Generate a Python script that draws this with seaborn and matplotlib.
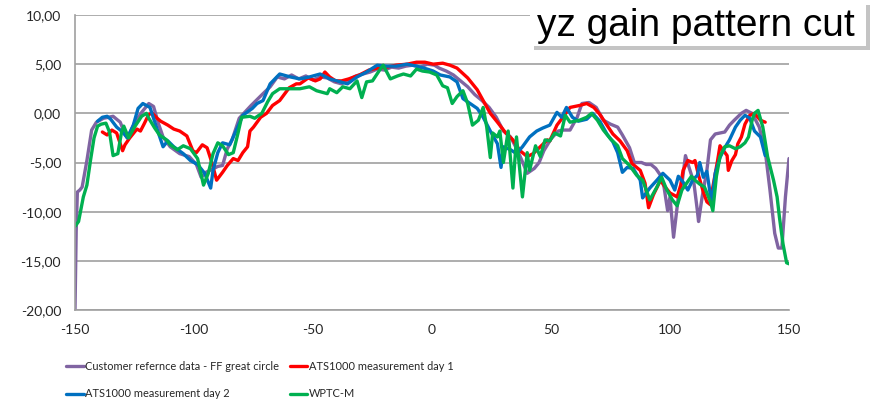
import pandas as pd
import matplotlib
matplotlib.use("Agg")
import matplotlib.pyplot as plt
from matplotlib.patches import Rectangle
import seaborn as sns

# angle (deg) / gain (dB)
purple_deg = [-150, -149.5, -149, -148, -147, -145, -143, -141, -138, -134, -131, -129, -128, -125, -122,
              -119, -117, -115, -113, -110, -106, -102, -99, -97, -95, -90, -88, -86, -84, -81, -76, -71,
              -68, -65, -62, -59, -56, -53, -50, -47, -44, -41, -38, -35, -32, -29, -26, -23, -20, -17,
              -14, -11, -8, -5, -2, 1, 3, 6, 9, 12, 15, 18, 21, 24, 27, 30, 33, 36, 39, 40, 43, 45, 47,
              50, 53, 55, 58, 61, 63, 66, 69, 72, 75, 78, 80, 83, 85, 88, 90, 92, 94, 96, 97.5, 99, 100,
              101.5, 103.5, 105, 106.5, 108, 110, 111.5, 112, 113.5, 115.5, 117, 119, 121, 123, 125, 127,
              130, 132, 134.5, 137.5, 140, 142, 144, 145.5, 147, 148.5, 150]
purple_val = [-20, -12, -8, -7.8, -7.5, -4.8, -1.7, -0.9, -0.5, -0.3, -0.9, -2.1, -2.5, -1.0, 0.1,
              1.0, 0.7, -1.0, -2.4, -3.4, -4.1, -4.4, -5.2, -6.5, -6.0, -5.4, -5.3, -3.6, -2.7, -0.5, 0.8, 2.0,
              2.7, 3.7, 3.5, 3.9, 3.5, 3.8, 3.4, 3.7, 3.6, 3.2, 3.0, 3.4, 3.8, 4.0, 4.2, 4.5, 4.4, 4.7,
              4.6, 4.8, 4.9, 4.7, 5.0, 4.9, 4.6, 4.3, 3.9, 3.3, 2.7, 1.9, 1.3, 0.6, -0.4, -1.8, -2.4, -3.8, -5.5, -6.1, -5.6, -5.0, -3.8,
              -2.6, -1.8, -1.7, -1.7, -0.4, 1.0, 1.1, 0.6, -0.7, -1.1, -1.4, -2.2, -3.5, -5.0, -5.0, -5.2, -5.2, -5.6, -6.3, -7.5, -9.9, -8.5,
              -12.6, -8.5, -7.2, -4.3, -5.5, -7.0, -9.9, -11.0, -8.5, -5.8, -2.7, -2.1, -2.0, -1.9, -1.2, -0.7,
              0.0, 0.3, 0.0, -1.4, -3.8, -7.8, -12.2, -13.7, -13.7, -8.5, -4.6]

red_deg = [-138.5, -136.5, -134.5, -132.5, -130, -129, -127, -124, -122.5, -121, -119, -117.5, -115.5, -114,
           -111, -108.5, -106, -103, -100.5, -99, -96.5, -94.5, -92.5, -90.5, -88, -86, -83.5, -81.5, -79.5,
           -77.5, -76.5, -75, -72, -69.5, -67, -64, -60, -57, -55.5, -52, -49, -47, -45, -43, -40.5, -38, -35,
           -30.5, -26.5, -23, -19, -15, -10.5, -6.5, -3, 0.5, 4.5, 7.5, 10.5, 15, 19, 21.5, 24.5, 27.5, 31, 34,
           37, 40, 42.5, 45.5, 48.5, 49.5, 52.5, 55, 58, 62, 65, 68, 70.5, 73.5, 76, 79, 82, 84, 87.5, 89.5,
           91, 93, 96, 98, 100, 103, 104.5, 105.5, 107.5, 109.5, 110.5, 112, 114, 115.5, 117, 118, 120, 121,
           122.5, 124, 124.5, 126, 127.5, 128.5, 130, 131.5, 133.5, 135.5, 138, 140]
red_val = [-1.9, -2.2, -1.7, -2.0, -3.8, -3.2, -2.5, -1.6, -1.8, -1.1, -0.1, 0.0, -0.5, -0.8,
           -1.2, -1.6, -1.8, -2.3, -3.8, -4.0, -3.2, -3.5, -5.0, -6.8, -6.0, -5.3, -4.6, -4.8, -4.0,
           -3.4, -1.8, -1.4, -0.4, 0.0, 0.8, 1.3, 2.6, 3.0, 3.0, 3.6, 3.3, 3.5, 4.2, 3.7, 3.3, 3.3, 3.5,
           3.9, 4.4, 4.6, 4.7, 4.9, 5.0, 5.2, 5.2, 5.0, 5.1, 4.9, 4.6, 3.6, 2.4, 1.3, 0.0, -0.9, -2.0, -2.7,
           -3.8, -4.4, -4.1, -3.4, -2.7, -2.8, -1.2, -0.4, 0.6, 0.8, 1.0, 0.6, -0.1, -1.2, -2.1, -2.8, -3.8, -5.1, -5.8, -7.1,
           -9.6, -8.3, -6.8, -7.5, -8.1, -8.5, -7.3, -5.8, -4.8, -5.0, -4.8, -6.3, -8.0, -9.0, -9.3, -7.5, -4.8, -3.3,
           -3.8, -4.3, -5.8, -4.8, -4.2, -3.1, -2.4, -1.1, -0.2, 0.0, -0.7, -0.9]

blue_deg = [-140.5, -138.5, -136.5, -135, -132.5, -130, -128, -125.5, -123.5, -121.5, -118.5, -115.5, -113,
            -111, -108.5, -104.5, -101.5, -98.5, -95.5, -93, -92, -90, -88, -85, -82, -79.5, -75.5, -73.5,
            -71, -68, -64, -59.5, -55.5, -51.5, -47, -43, -38.5, -35.5, -31.5, -27.5, -23, -19, -15, -10.5,
            -6.5, -2, 0.5, 3.5, 7.5, 10.5, 13, 16, 19, 21.5, 24.5, 27.5, 29, 30, 33, 35.5, 38, 41, 44, 46.5,
            49.5, 52.5, 54.5, 56.5, 59, 61.5, 65, 67.5, 70.5, 73.5, 76, 78, 80, 82, 84.5, 87.5, 88.5, 91.5,
            94.5, 97, 100, 102, 103.5, 105.5, 107.5, 109.5, 111.5, 112.5, 114, 115.5, 117.5, 119, 121, 123,
            125, 127.5, 129.5, 131.5, 133.5, 135.5, 138, 140]
blue_val = [-0.8, -0.4, -0.3, -0.6, -1.4, -1.9, -2.5, -1.2, 0.5, 1.0, 0.6, -1.6, -3.4,
            -2.8, -3.4, -4.1, -4.8, -5.2, -6.1, -7.6, -5.8, -4.0, -3.0, -3.2, -1.6, -0.2, 0.5, 1.0,
            1.3, 3.0, 4.0, 3.7, 3.5, 3.7, 4.0, 3.5, 3.2, 3.0, 3.7, 4.2, 4.9, 4.8, 4.8, 5.0,
            4.8, 4.5, 4.3, 3.9, 3.7, 3.2, 1.5, 1.0, 0.5, -0.4, -1.8, -3.1, -5.5, -3.4, -3.7, -4.1, -3.4, -2.4, -1.8, -1.5,
            -1.2, 0.1, -0.4, 0.6, -0.4, -0.8, -0.6, 0.0, -0.8, -2.1, -2.9, -4.0, -6.0, -5.5, -5.6, -6.8, -8.6, -7.6,
            -6.8, -6.1, -6.8, -7.8, -6.4, -7.0, -7.8, -6.8, -6.3, -5.0, -6.5, -5.9, -9.2, -6.1, -4.5, -3.5,
            -2.7, -1.4, -0.7, -0.2, -0.5, -1.8, -2.4, -4.3]

green_deg = [-150, -148.5, -146.5, -145, -143.5, -142, -140.5, -139, -137, -135.5, -134, -132, -130.5, -129.5,
             -127.5, -125, -122, -120, -119, -116.5, -114.5, -111.5, -110, -107, -104.5, -101.5, -98.5, -96,
             -94, -92, -90, -88, -85.5, -83.5, -81.5, -80, -76.5, -74.5, -71.5, -69, -67, -64, -61, -55.5,
             -51.5, -48.5, -44, -43, -40, -37.5, -34.5, -31.5, -29.5, -27.5, -25, -22, -20.5, -17.5, -14.5, -12,
             -9, -6.5, -4, -1, 2, 4.5, 6.5, 8.5, 10.5, 13, 15, 17, 19.5, 21.5, 23, 24.5, 25.5, 27.5, 28.5, 30,
             32, 34, 35.5, 38, 40, 41, 43.5, 45.5, 47.5, 49.5, 51.5, 54, 56, 58, 62, 65, 67, 69.5, 72, 75, 78,
             80, 83, 86, 88.5, 91.5, 94.5, 96.5, 98.5, 101, 103, 105, 107, 109, 110.5, 112.5, 114.5, 117, 118,
             119.5, 121, 123, 125, 127.5, 129.5, 131.5, 133, 134.5, 135.5, 137, 139, 141, 143.5, 145, 146,
             147.5, 149, 150]
green_val = [-11.5, -11.0, -8.5, -7.3, -4.8, -2.5, -1.3, -1.1, -1.0, -1.9, -4.3, -4.1, -2.0, -1.3,
             -2.5, -1.4, -0.3, 0.0, -0.5, -1.5, -2.2, -2.7, -3.2, -3.7, -3.3, -3.6, -4.6, -7.3,
             -6.1, -4.1, -3.0, -3.3, -4.2, -4.0, -2.0, -0.4, -0.3, -0.5, 0.0, 1.2, 2.0, 2.5, 2.5, 2.5,
             2.7, 2.3, 2.0, 2.5, 2.1, 2.7, 2.5, 3.3, 1.6, 3.2, 3.3, 4.4, 4.9, 3.5, 3.8, 4.0,
             3.8, 4.5, 4.3, 4.2, 3.9, 2.8, 2.6, 1.0, 1.7, 2.3, 1.0, -1.2, -0.7, 0.6, -1.4, -4.5, -2.0, -2.4, -1.8, -5.0,
             -1.8, -7.6, -2.4, -8.5, -4.0, -5.8, -3.3, -4.4, -2.7, -2.8, -2.0, -2.3, -0.2, -0.9, -0.7, -0.4, 0.0, -0.7, -1.7, -2.6, -3.3,
             -4.6, -5.3, -6.3, -6.8, -8.8, -7.5, -6.5, -7.7, -8.8, -9.4, -7.8, -7.1, -6.4, -6.8, -7.2, -7.5, -9.0, -9.9,
             -6.4, -4.4, -3.4, -3.3, -3.6, -3.4, -3.0, -2.4, -0.7, 0.0, 0.3, -1.4, -4.4, -6.8, -8.5, -10.6,
             -13.3, -15.2, -15.3]

series = [
    ("Customer refernce data - FF great circle", purple_deg, purple_val, "#8064A2"),
    ("ATS1000 measurement day 1", red_deg, red_val, "#FF0000"),
    ("ATS1000 measurement day 2", blue_deg, blue_val, "#0070C0"),
    ("WPTC-M", green_deg, green_val, "#00B050"),
]

sns.set_style("white")
plt.rcParams["font.family"] = ["Lato", "DejaVu Sans"]
plt.rcParams["axes.unicode_minus"] = False

fig = plt.figure(figsize=(8.83, 4.05), dpi=100)
ax = fig.add_axes([75 / 883, 1 - 310 / 405, 714 / 883, 295 / 405])

for name, xs, ys, col in series:
    df = pd.DataFrame({"angle": xs, "gain": ys})
    sns.lineplot(data=df, x="angle", y="gain", ax=ax, color=col, lw=2.4,
                 estimator=None, sort=False, label=name)

ax.set_xlim(-150, 150)
ax.set_ylim(-20, 10)
ax.set_xticks([-150, -100, -50, 0, 50, 100, 150])
yt = [-20, -15, -10, -5, 0, 5, 10]
ax.set_yticks(yt)
ax.set_yticklabels([f"{v:.2f}".replace(".", ",") for v in yt])
ax.set_xlabel("")
ax.set_ylabel("")
ax.grid(axis="y", color="#a0a0a0", lw=1.2)
ax.set_axisbelow(True)
for s in ["top", "right"]:
    ax.spines[s].set_visible(False)
for s in ["left", "bottom"]:
    ax.spines[s].set_color("#a0a0a0")
    ax.spines[s].set_linewidth(1.2)
ax.tick_params(axis="both", length=4, color="#a0a0a0", width=1.2, labelsize=10, pad=6)

# legend: row 1 purple / red, row 2 blue / green
handles, labels = ax.get_legend_handles_labels()
ax.get_legend().remove()
order = [0, 2, 1, 3]
fig.legend([handles[i] for i in order], [labels[i] for i in order], ncol=2,
           loc="upper left", bbox_to_anchor=(66 / 883, 1 - 361 / 405),
           frameon=False, prop={"family": "Lato", "size": 7.9},
           handlelength=1.6, handletextpad=0.12, borderpad=0, borderaxespad=0,
           columnspacing=1.0, labelspacing=1.5)

# title box with soft shadow
fig.add_artist(Rectangle((534 / 883, 1 - 50 / 405), 336 / 883, 45 / 405,
                         transform=fig.transFigure, facecolor="#c4c4c4", edgecolor="none"))
fig.add_artist(Rectangle((530 / 883, 1 - 46 / 405), 336 / 883, 45 / 405,
                         transform=fig.transFigure, facecolor="white", edgecolor="none"))
fig.text(537 / 883, 1 - 26 / 405, "yz gain pattern cut", fontsize=28,
         family="Liberation Sans", va="center", ha="left", color="black")

fig.savefig("out.png", dpi=100)
